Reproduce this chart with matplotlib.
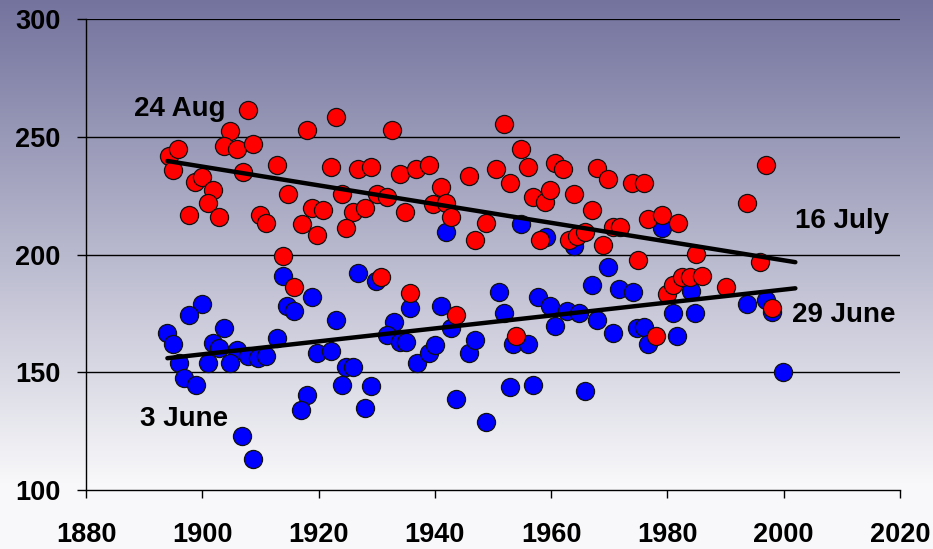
import numpy as np
import matplotlib
matplotlib.use("Agg")
import matplotlib.pyplot as plt

# ---- data ----
red_years = [1907.9, 1904.8, 1903.7, 1905.9, 1908.8, 1894.2, 1895.9, 1895.0, 1907.0, 1912.9,
             1898.7, 1900.0, 1901.9, 1901.0, 1897.8, 1902.9, 1909.9, 1911.0, 1914.8, 1913.8,
             1915.7,
             1923.0, 1918.0, 1932.7, 1922.1, 1926.8, 1929.0, 1934.0, 1936.8, 1939.0, 1941.0,
             1945.9, 1950.6, 1924.0, 1930.0, 1931.8, 1939.7, 1941.9, 1942.7, 1918.9, 1920.8,
             1925.9, 1928.0, 1934.9, 1917.1, 1919.8, 1924.8, 1946.9, 1948.8, 1930.8, 1935.8,
             1943.7,
             1951.9, 1954.8, 1956.1, 1952.9, 1960.7, 1962.0, 1967.9, 1969.8, 1973.9, 1975.9,
             1956.8, 1958.9, 1959.8, 1963.9, 1967.1, 1958.0, 1963.0, 1964.4, 1965.8, 1968.9,
             1970.6, 1971.8, 1976.7, 1979.0, 1981.9, 1975.0, 1979.9, 1980.9, 1982.5, 1983.8,
             1954.0, 1978.1,
             1996.9, 1993.7, 1984.9, 1995.9, 1985.9, 1990.0, 1997.9]
red_values = [261.5, 252.7, 246.3, 244.8, 247.0, 241.9, 244.9, 236.0, 235.3, 238.1,
              231.0, 233.1, 227.5, 221.8, 216.9, 216.1, 216.9, 213.6, 225.8, 199.5,
              186.4,
              258.6, 253.0, 253.0, 237.1, 236.3, 237.1, 234.3, 236.3, 238.1, 228.9,
              233.4, 236.3, 225.8, 225.8, 224.6, 221.5, 222.1, 216.1, 219.7, 219.0,
              218.3, 219.7, 218.3, 213.0, 208.4, 211.2, 206.2, 213.6, 190.3, 183.6,
              174.4,
              255.5, 244.8, 237.1, 230.3, 238.8, 236.3, 236.7, 232.0, 230.3, 230.3,
              224.6, 222.5, 227.5, 225.8, 219.0, 206.2, 206.2, 207.9, 209.8, 204.1,
              211.9, 211.9, 215.0, 216.9, 213.6, 197.8, 183.3, 187.1, 190.3, 190.3,
              165.5, 165.5,
              238.1, 222.1, 200.3, 197.0, 190.9, 186.4, 177.3]

blue_years = [1913.8, 1914.6, 1915.7, 1900.0, 1897.8, 1894.0, 1895.0, 1903.7, 1901.8, 1902.9,
              1905.9, 1907.9, 1909.6, 1911.0, 1912.9, 1896.0, 1901.0, 1904.8, 1896.8, 1898.9,
              1906.9, 1908.8,
              1941.9, 1926.8, 1929.9, 1918.9, 1923.0, 1932.9, 1935.8, 1941.0, 1931.7, 1934.0,
              1935.0, 1919.8, 1922.1, 1936.9, 1939.0, 1940.0, 1942.7, 1945.9, 1946.9, 1924.7,
              1925.9, 1918.0, 1916.9, 1924.0, 1929.0, 1928.0, 1943.7, 1948.8,
              1954.8, 1959.1, 1963.9, 1979.0, 1969.8, 1951.0, 1967.0, 1971.7, 1974.0, 1984.0,
              1957.8, 1959.8, 1951.9, 1962.8, 1964.8, 1967.9, 1980.9, 1984.7, 1960.7, 1970.7,
              1974.7, 1975.9, 1976.7, 1981.7, 1953.5, 1956.1, 1952.9, 1956.9, 1965.8,
              1993.7, 1996.9, 1997.9, 1999.8]
blue_values = [190.9, 178.2, 176.2, 179.0, 174.4, 166.9, 162.0, 168.7, 162.4, 160.2,
               159.5, 157.0, 156.0, 157.0, 164.5, 153.9, 153.9, 153.9, 147.5, 144.7,
               123.0, 113.1,
               209.8, 192.1, 188.8, 181.9, 172.3, 171.5, 177.3, 178.2, 165.9, 163.0,
               163.0, 158.4, 159.2, 153.9, 158.4, 161.7, 168.7, 158.4, 163.8, 152.4,
               152.4, 140.4, 134.0, 144.7, 144.2, 135.0, 138.5, 129.0,
               213.0, 207.4, 203.7, 211.2, 194.9, 184.3, 187.1, 185.3, 184.3, 184.7,
               182.2, 178.2, 175.4, 176.2, 175.4, 172.3, 175.4, 175.4, 169.7, 166.9,
               168.7, 169.4, 162.0, 165.5, 162.0, 162.0, 143.6, 144.7, 141.9,
               179.0, 180.8, 175.8, 150.0]

red_trend_years = [1894, 2002]
red_trend_values = [239.8, 196.8]
blue_trend_years = [1894, 2002]
blue_trend_values = [156.0, 185.7]

x_ticks = [1880, 1900, 1920, 1940, 1960, 1980, 2000, 2020]
y_ticks = [100, 150, 200, 250, 300]

plt.rcParams['font.family'] = ['Liberation Sans', 'DejaVu Sans']

fig = plt.figure(figsize=(9.33, 5.49), dpi=100)

# background gradient over the whole figure
bg = fig.add_axes([0, 0, 1, 1], zorder=-10)
h = 549
t = np.clip(np.linspace(0, 1, h) / 0.88, 0, 1)
top = np.array([115, 115, 158]) / 255.0
bot = np.array([248, 248, 250]) / 255.0
grad = top[None, :] * (1 - t[:, None]) + bot[None, :] * t[:, None]
grad = np.repeat(grad[:, None, :], 4, axis=1)
bg.imshow(grad, aspect='auto', extent=[0, 1, 0, 1], origin='upper')
bg.axis('off')

ax = fig.add_axes([86/933, 1 - 490/549, (900-86)/933, (490-19.3)/549])
ax.set_facecolor('none')

ax.scatter(blue_years, blue_values, s=170, c='#0000FF', edgecolors='#111111',
           linewidths=0.9, zorder=3)
ax.scatter(red_years, red_values, s=170, c='#FF0000', edgecolors='#111111',
           linewidths=0.9, zorder=4)
ax.plot(red_trend_years, red_trend_values, color='black', lw=3.2, zorder=5,
        solid_capstyle='round')
ax.plot(blue_trend_years, blue_trend_values, color='black', lw=3.2, zorder=5,
        solid_capstyle='round')

ax.set_xlim(1880, 2020)
ax.set_ylim(100, 300)
ax.set_xticks(x_ticks)
ax.set_yticks(y_ticks)
ax.set_xticklabels([str(v) for v in x_ticks])
ax.set_yticklabels([str(v) for v in y_ticks])
ax.tick_params(axis='both', direction='out', width=1, color='black',
               labelsize=19.5, labelcolor='black')
ax.tick_params(axis='y', length=6.5, pad=12)
ax.tick_params(axis='x', length=6, pad=17)
for lab in ax.get_xticklabels() + ax.get_yticklabels():
    lab.set_fontweight('bold')

for side in ['top', 'right']:
    ax.spines[side].set_visible(False)
for side in ['left', 'bottom']:
    ax.spines[side].set_color('black')
    ax.spines[side].set_linewidth(1)

for yv in y_ticks[1:]:
    ax.axhline(yv, color='black', lw=1.0 if yv < 300 else 1.6, zorder=1)

ax.text(1896.2, 262, '24 Aug', fontsize=20, fontweight='bold', ha='center', va='center')
ax.text(1896.8, 130, '3 June', fontsize=20, fontweight='bold', ha='center', va='center')
ax.text(2010.0, 214.5, '16 July', fontsize=20, fontweight='bold', ha='center', va='center')
ax.text(2010.3, 174.3, '29 June', fontsize=20, fontweight='bold', ha='center', va='center')

fig.savefig('out.png', dpi=100)
